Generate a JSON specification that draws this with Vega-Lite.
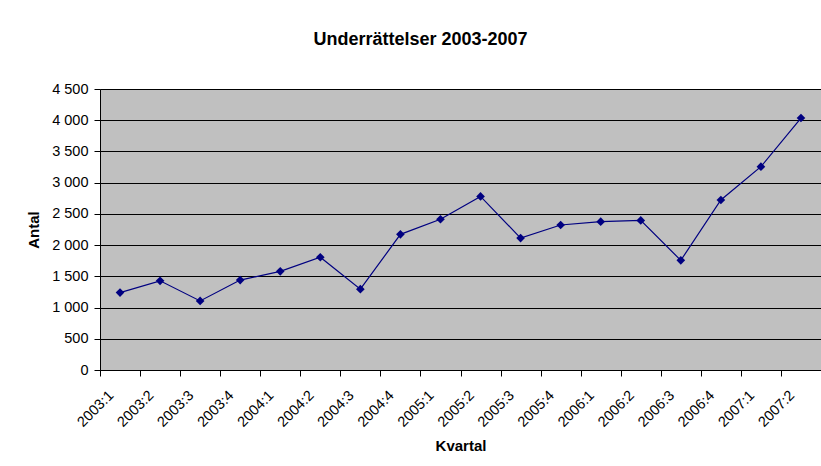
{
  "$schema": "https://vega.github.io/schema/vega-lite/v6.json",
  "width": 721,
  "height": 281,
  "autosize": "none",
  "padding": {"left": 100, "top": 89, "right": 0, "bottom": 96},
  "background": "white",
  "title": {
    "text": "Underrättelser 2003-2007",
    "font": "Liberation Sans",
    "fontSize": 18,
    "fontWeight": "bold",
    "color": "black",
    "anchor": "middle",
    "dx": -40,
    "baseline": "alphabetic",
    "offset": 18
  },
  "data": {
    "values": [
      {"kvartal": "2003:1", "antal": 1240},
      {"kvartal": "2003:2", "antal": 1428},
      {"kvartal": "2003:3", "antal": 1106},
      {"kvartal": "2003:4", "antal": 1440},
      {"kvartal": "2004:1", "antal": 1580},
      {"kvartal": "2004:2", "antal": 1806},
      {"kvartal": "2004:3", "antal": 1295},
      {"kvartal": "2004:4", "antal": 2172},
      {"kvartal": "2005:1", "antal": 2414},
      {"kvartal": "2005:2", "antal": 2780},
      {"kvartal": "2005:3", "antal": 2113},
      {"kvartal": "2005:4", "antal": 2322},
      {"kvartal": "2006:1", "antal": 2375},
      {"kvartal": "2006:2", "antal": 2395},
      {"kvartal": "2006:3", "antal": 1756},
      {"kvartal": "2006:4", "antal": 2722},
      {"kvartal": "2007:1", "antal": 3256},
      {"kvartal": "2007:2", "antal": 4035}
    ]
  },
  "mark": {
    "type": "line",
    "color": "#000080",
    "strokeWidth": 1.2,
    "point": {"shape": "diamond", "size": 75, "filled": true, "color": "#000080", "opacity": 1}
  },
  "encoding": {
    "x": {
      "field": "kvartal",
      "type": "ordinal",
      "sort": null,
      "scale": {"type": "band", "paddingInner": 0, "paddingOuter": 0},
      "axis": {
        "title": "Kvartal",
        "titleFont": "Liberation Sans",
        "titleFontSize": 15,
        "titleFontWeight": "bold",
        "titleColor": "black",
        "titlePadding": 10,
        "labelFont": "Liberation Sans",
        "labelFontSize": 14.5,
        "labelColor": "black",
        "labelAngle": -45,
        "labelAlign": "right",
        "labelBaseline": "middle",
        "labelPadding": 17,
        "labelOffset": -9,
        "tickBand": "extent",
        "tickColor": "black",
        "tickSize": 6,
        "domainColor": "black",
        "grid": false
      }
    },
    "y": {
      "field": "antal",
      "type": "quantitative",
      "scale": {"domain": [0, 4500], "nice": false, "zero": true},
      "axis": {
        "title": "Antal",
        "titleFont": "Liberation Sans",
        "titleFontSize": 15,
        "titleFontWeight": "bold",
        "titleColor": "black",
        "titlePadding": 10,
        "values": [0, 500, 1000, 1500, 2000, 2500, 3000, 3500, 4000, 4500],
        "labelExpr": "replace(format(datum.value, ','), ',', ' ')",
        "labelFont": "Liberation Sans",
        "labelFontSize": 14.5,
        "labelColor": "black",
        "labelPadding": 6,
        "tickColor": "black",
        "tickSize": 6,
        "domainColor": "black",
        "grid": true,
        "gridColor": "black",
        "gridOpacity": 1,
        "gridWidth": 1
      }
    }
  },
  "config": {
    "view": {"fill": "#C0C0C0", "stroke": "#808080", "strokeWidth": 1}
  }
}
